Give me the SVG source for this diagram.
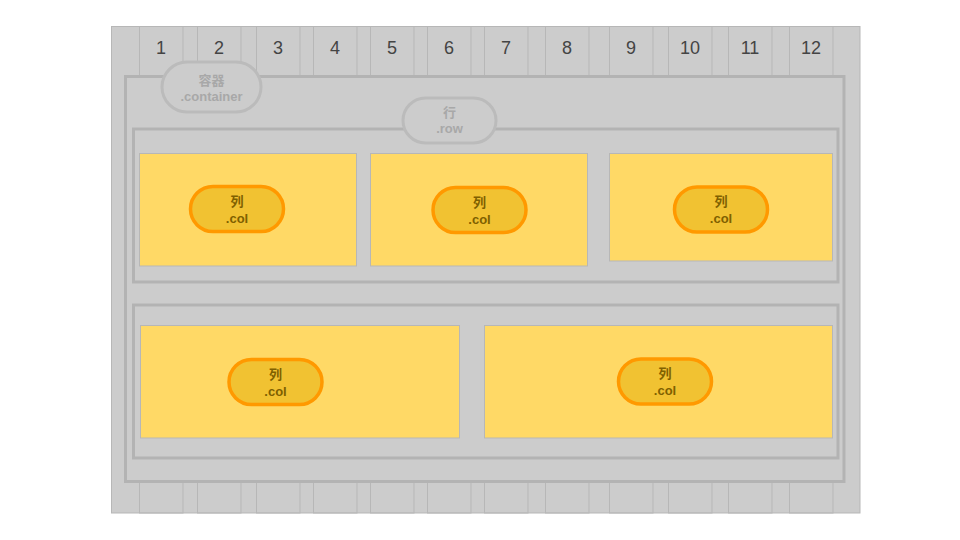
<svg xmlns="http://www.w3.org/2000/svg" width="960" height="540" viewBox="0 0 960 540">
<style>
.bg{fill:#cccccc;stroke:#b7b7b7;stroke-width:1}
.gcol{fill:none;stroke:#b7b7b7;stroke-width:1}
.num{font-family:"Liberation Sans","Noto Sans CJK SC",sans-serif;font-size:18px;fill:#444444;text-anchor:middle}
.cont{fill:#cccccc;stroke:#b3b3b3;stroke-width:3}
.row{fill:none;stroke:#b3b3b3;stroke-width:3}
.lblpill{fill:#cccccc;stroke:#bbbbbb;stroke-width:3}
.lbl{font-family:"Liberation Sans","Noto Sans CJK SC",sans-serif;font-size:13px;font-weight:bold;fill:#a8a8a8;text-anchor:middle}
.col{fill:#ffd966;stroke:#b7b7b7;stroke-width:1}
.colpill{fill:#f1c232;stroke:#ff9900;stroke-width:3.5}
.coltxt{font-family:"Liberation Sans","Noto Sans CJK SC",sans-serif;font-size:13px;font-weight:bold;fill:#7f6000;text-anchor:middle}
</style>
<g id="background">
<rect class="bg" x="111.5" y="26.5" width="748.5" height="486.5"/>
</g>
<g id="grid">
<rect class="gcol" x="139.5" y="26.5" width="43.5" height="486.5"/>
<rect class="gcol" x="197.5" y="26.5" width="43.5" height="486.5"/>
<rect class="gcol" x="256.5" y="26.5" width="43.5" height="486.5"/>
<rect class="gcol" x="313.5" y="26.5" width="43.5" height="486.5"/>
<rect class="gcol" x="370.5" y="26.5" width="43.5" height="486.5"/>
<rect class="gcol" x="427.5" y="26.5" width="43.5" height="486.5"/>
<rect class="gcol" x="484.5" y="26.5" width="43.5" height="486.5"/>
<rect class="gcol" x="545.5" y="26.5" width="43.5" height="486.5"/>
<rect class="gcol" x="609.5" y="26.5" width="43.5" height="486.5"/>
<rect class="gcol" x="668.5" y="26.5" width="43.5" height="486.5"/>
<rect class="gcol" x="728.5" y="26.5" width="43.5" height="486.5"/>
<rect class="gcol" x="789.5" y="26.5" width="43.5" height="486.5"/>
<text class="num" x="161" y="53.5">1</text>
<text class="num" x="219" y="53.5">2</text>
<text class="num" x="278" y="53.5">3</text>
<text class="num" x="335" y="53.5">4</text>
<text class="num" x="392" y="53.5">5</text>
<text class="num" x="449" y="53.5">6</text>
<text class="num" x="506" y="53.5">7</text>
<text class="num" x="567" y="53.5">8</text>
<text class="num" x="631" y="53.5">9</text>
<text class="num" x="690" y="53.5">10</text>
<text class="num" x="750" y="53.5">11</text>
<text class="num" x="811" y="53.5">12</text>
</g>
<g id="container">
<rect class="cont" x="125.5" y="76.5" width="718.5" height="405"/>
</g>
<g id="row1">
<rect class="row" x="133.5" y="129" width="704.5" height="153"/>
</g>
<g id="row2">
<rect class="row" x="133.5" y="305" width="704.5" height="153"/>
</g>
<g id="container-label">
<rect class="lblpill" x="162" y="62" width="99" height="50" rx="25" ry="25"/>
<text class="lbl" x="211.5" y="85">容器</text>
<text class="lbl" x="211.5" y="101">.container</text>
</g>
<g id="row-label">
<rect class="lblpill" x="403" y="98" width="93" height="45" rx="22.5" ry="22.5"/>
<text class="lbl" x="449.5" y="117">行</text>
<text class="lbl" x="449.5" y="133">.row</text>
</g>
<g id="col1">
<rect class="col" x="139.5" y="153.5" width="217" height="112.5"/>
<rect class="colpill" x="190.5" y="186.5" width="93" height="45" rx="22.5" ry="22.5"/>
<text class="coltxt" x="237" y="205.5">列</text>
<text class="coltxt" x="237" y="222.5">.col</text>
</g>
<g id="col2">
<rect class="col" x="370.5" y="153.5" width="217" height="112.5"/>
<rect class="colpill" x="433" y="187.5" width="93" height="45" rx="22.5" ry="22.5"/>
<text class="coltxt" x="479.5" y="206.5">列</text>
<text class="coltxt" x="479.5" y="223.5">.col</text>
</g>
<g id="col3">
<rect class="col" x="609.5" y="153.5" width="223" height="107.5"/>
<rect class="colpill" x="674.5" y="187" width="93" height="45" rx="22.5" ry="22.5"/>
<text class="coltxt" x="721" y="206">列</text>
<text class="coltxt" x="721" y="223">.col</text>
</g>
<g id="col4">
<rect class="col" x="140.5" y="325.5" width="319" height="112.5"/>
<rect class="colpill" x="229" y="359.5" width="93" height="45" rx="22.5" ry="22.5"/>
<text class="coltxt" x="275.5" y="378.5">列</text>
<text class="coltxt" x="275.5" y="395.5">.col</text>
</g>
<g id="col5">
<rect class="col" x="484.5" y="325.5" width="348" height="112.5"/>
<rect class="colpill" x="618.5" y="359" width="93" height="45" rx="22.5" ry="22.5"/>
<text class="coltxt" x="665" y="378">列</text>
<text class="coltxt" x="665" y="395">.col</text>
</g>
<g id="connectors"></g>
</svg>
